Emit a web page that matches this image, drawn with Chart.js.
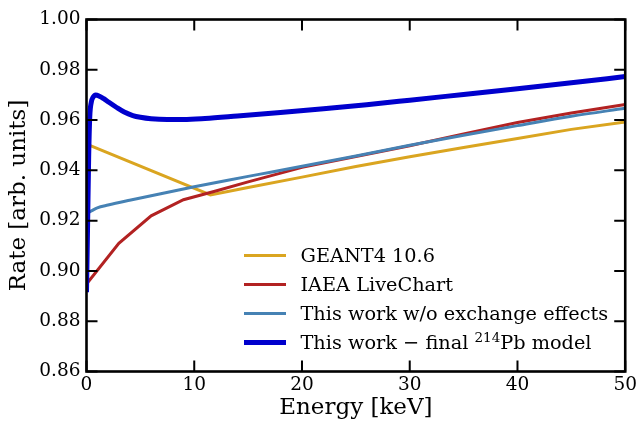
<!DOCTYPE html>
<html>
<head>
<meta charset="utf-8">
<script src="https://cdn.jsdelivr.net/npm/chart.js@4/dist/chart.umd.min.js"></script>
<style>
  html, body { margin: 0; padding: 0; background: #fff; }
  #wrap { position: relative; width: 640px; height: 422px; }
  #legend { position: absolute; left: 244px; top: 241.5px; font-family: "DejaVu Serif", serif; font-size: 19.3px; color: #000; }
  .row { height: 28.9px; display: flex; align-items: center; white-space: nowrap; }
  .sw { width: 42px; margin-right: 14.5px; }
  sup { font-size: 0.7em; vertical-align: 0; position: relative; top: -0.5em; }
</style>
</head>
<body>
<div id="wrap">
  <canvas id="c" width="640" height="422"></canvas>
  <div id="legend"></div>
</div>
<script>
// ---- data ----
const geantEnergy = [0.3, 11.5, 15, 20, 25, 30, 35, 40, 45, 50];
const geantRate   = [0.9499, 0.9302, 0.9332, 0.9373, 0.9415, 0.9454, 0.9491, 0.9527, 0.9563, 0.9592];

const iaeaEnergy = [0, 3, 6, 9, 12, 15, 20, 25, 30, 35, 40, 45, 50];
const iaeaRate   = [0.8948, 0.9110, 0.9219, 0.9283, 0.9318, 0.9354, 0.9412, 0.9455, 0.9498, 0.9545, 0.9590, 0.9628, 0.9662];

const noExchEnergy = [0, 0.5, 1, 2, 4, 6, 8, 10, 13, 16, 20, 25, 30, 35, 40, 45, 50];
const noExchRate   = [0.9228, 0.9240, 0.9251, 0.9262, 0.9281, 0.9299, 0.9317, 0.9335, 0.9360, 0.9384, 0.9416, 0.9457, 0.9500, 0.9540, 0.9578, 0.9615, 0.9647];

const finalEnergy = [0, 0.1, 0.2, 0.3, 0.45, 0.6, 0.85, 1.2, 1.6, 2.0, 2.8, 3.5, 4.3, 5.0, 6.0, 7.5, 9, 11, 14, 18, 22, 26, 30, 35, 40, 45, 50];
const finalRate   = [0.8915, 0.918, 0.945, 0.961, 0.9672, 0.9690, 0.9700, 0.9695, 0.9685, 0.9673, 0.9650, 0.9632, 0.9618, 0.9611, 0.9605, 0.9602, 0.9602, 0.9606, 0.9616, 0.9630, 0.9645, 0.9661, 0.9679, 0.9702, 0.9725, 0.9748, 0.9773];

const seriesLabels = ["GEANT4 10.6", "IAEA LiveChart", "This work w/o exchange effects", "This work \u2212 final 214Pb model"];
const xTicks = [0, 10, 20, 30, 40, 50];
const yTicks = [0.86, 0.88, 0.90, 0.92, 0.94, 0.96, 0.98, 1.00];
const xTitle = "Energy [keV]";
const yTitle = "Rate [arb. units]";

// ---- styles ----
const colors = ["#DAA520", "#B22222", "#4682B4", "#0000CD"];
const widths = [3, 3, 3, 5];

const pts = (xs, ys) => xs.map((x, i) => ({ x: x, y: ys[i] }));
const seriesData = [
  pts(geantEnergy, geantRate),
  pts(iaeaEnergy, iaeaRate),
  pts(noExchEnergy, noExchRate),
  pts(finalEnergy, finalRate)
];

const datasets = seriesData.map((d, i) => ({
  label: seriesLabels[i],
  data: d,
  borderColor: colors[i],
  backgroundColor: colors[i],
  borderWidth: widths[i],
  pointRadius: 0,
  showLine: true,
  fill: false,
  tension: 0,
  cubicInterpolationMode: i >= 2 ? 'monotone' : 'default',
  order: 4 - i
}));

const FONT = "DejaVu Serif";

const frameTicks = {
  id: 'frameTicks',
  afterDatasetsDraw(chart) {
    const { ctx, chartArea: a, scales: { x, y } } = chart;
    ctx.save();
    ctx.strokeStyle = '#000';
    ctx.lineWidth = 2;
    const L = 11;
    ctx.beginPath();
    xTicks.forEach(v => {
      const px = x.getPixelForValue(v);
      ctx.moveTo(px, a.bottom); ctx.lineTo(px, a.bottom - L);
      ctx.moveTo(px, a.top); ctx.lineTo(px, a.top + L);
    });
    yTicks.forEach(v => {
      const py = y.getPixelForValue(v);
      ctx.moveTo(a.left, py); ctx.lineTo(a.left + L, py);
      ctx.moveTo(a.right, py); ctx.lineTo(a.right - L, py);
    });
    ctx.stroke();
    ctx.lineWidth = 2.6;
    ctx.strokeRect(a.left, a.top, a.right - a.left, a.bottom - a.top);
    ctx.restore();
  }
};

new Chart(document.getElementById('c'), {
  type: 'scatter',
  data: { datasets: datasets },
  options: {
    responsive: false,
    animation: false,
    devicePixelRatio: 1,
    layout: { padding: { top: 19.5, right: 13.5, left: 0, bottom: 0 } },
    plugins: { legend: { display: false }, tooltip: { enabled: false } },
    scales: {
      x: {
        type: 'linear',
        min: 0, max: 50,
        afterBuildTicks: s => { s.ticks = xTicks.map(v => ({ value: v })); },
        afterFit: s => { s.height = 50.5; },
        grid: { display: false, drawTicks: false },
        border: { display: false },
        ticks: { color: '#000', padding: 3, font: { family: FONT, size: 18.5 }, callback: v => String(v) },
        title: { display: true, text: xTitle, color: '#000', font: { family: FONT, size: 23 }, padding: { top: 0, bottom: 0 } }
      },
      y: {
        type: 'linear',
        min: 0.86, max: 1.0,
        afterBuildTicks: s => { s.ticks = yTicks.map(v => ({ value: v })); },
        afterFit: s => { s.width = 86.5; },
        grid: { display: false, drawTicks: false },
        border: { display: false },
        ticks: { color: '#000', padding: 6, font: { family: FONT, size: 18.5 }, callback: v => Number(v).toFixed(2) },
        title: { display: true, text: yTitle, color: '#000', font: { family: FONT, size: 23 }, padding: { top: 5, bottom: 0 } }
      }
    }
  },
  plugins: [frameTicks]
});

// ---- legend (HTML, real text) ----
const leg = document.getElementById('legend');
seriesLabels.forEach((lab, i) => {
  const row = document.createElement('div');
  row.className = 'row';
  const sw = document.createElement('span');
  sw.className = 'sw';
  sw.style.borderTop = widths[i] + 'px solid ' + colors[i];
  row.appendChild(sw);
  const txt = document.createElement('span');
  const m = lab.match(/^(.*?)(\d+)(Pb.*)$/);
  if (m) {
    txt.appendChild(document.createTextNode(m[1]));
    const sup = document.createElement('sup');
    sup.textContent = m[2];
    txt.appendChild(sup);
    txt.appendChild(document.createTextNode(m[3]));
  } else {
    txt.textContent = lab;
  }
  row.appendChild(txt);
  leg.appendChild(row);
});
</script>
</body>
</html>
